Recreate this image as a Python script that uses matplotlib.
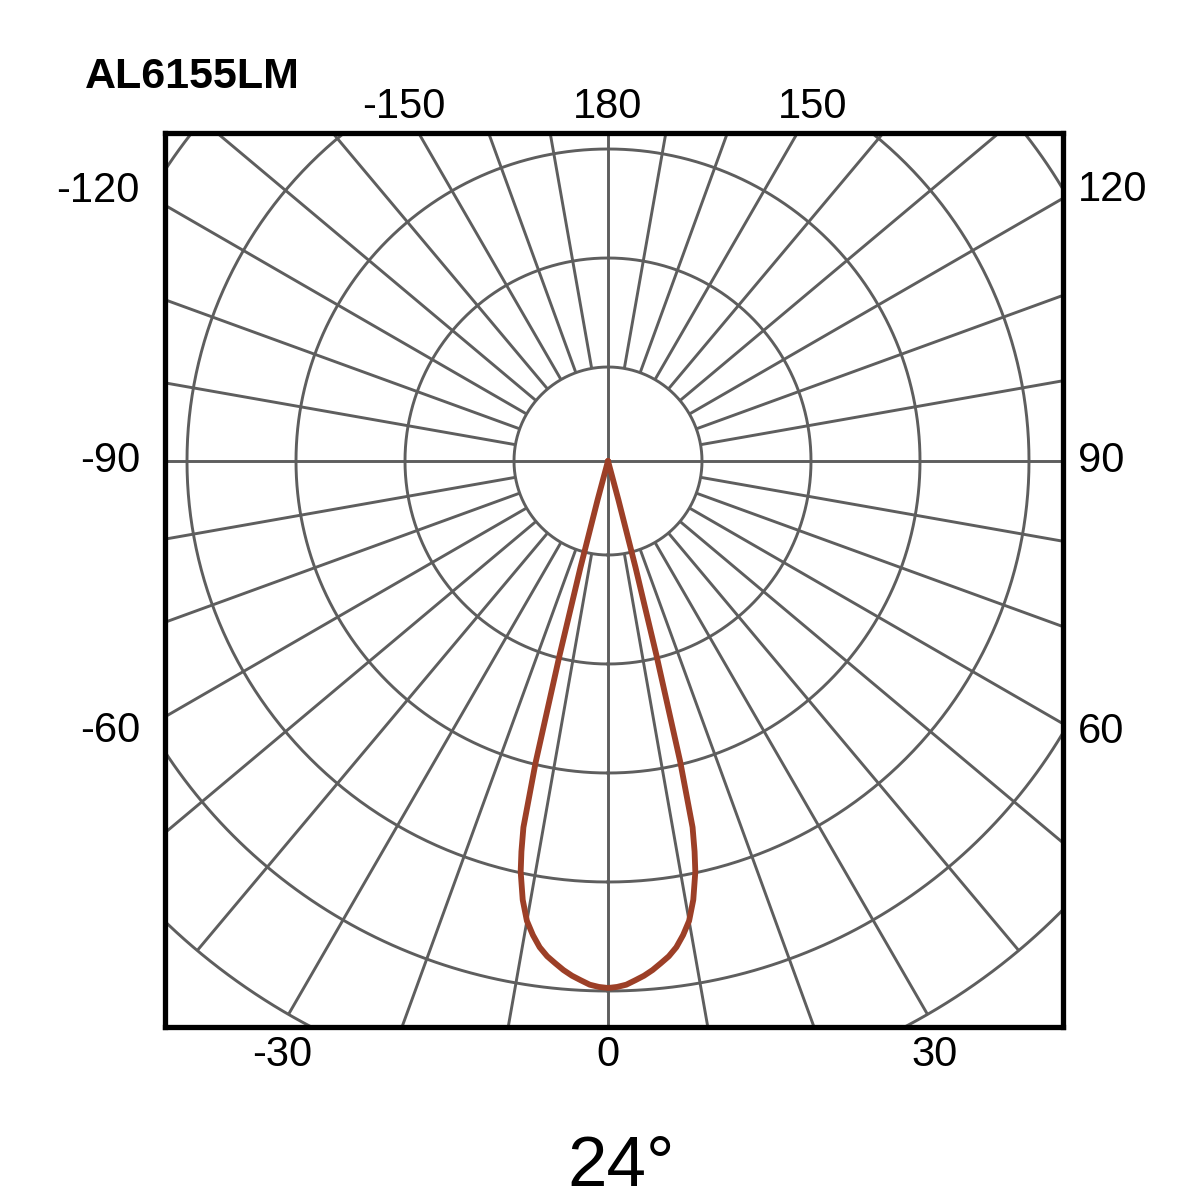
import numpy as np
import matplotlib
matplotlib.use("Agg")
import matplotlib.pyplot as plt

# ---------------- data ----------------
title = "AL6155LM"
beam_label = "24°"

# grid rings (relative intensity units)
ring_radii = [94, 203, 312, 421, 530, 639]
# radial spokes, degrees measured from nadir (0 = down, 180 = up)
spoke_angles = list(range(-170, 181, 10))
# angle labels placed around the frame
label_angles = [-150, 180, 150, -120, 120, -90, 90, -60, 60, -30, 0, 30]

# luminous intensity distribution (one half, symmetric)
curve_angles = [0, 1, 2, 3, 4, 5, 6, 7, 8, 9, 10, 11, 12, 12.5, 13, 13.5, 14, 14.5, 15, 15.5]
curve_intensity = [527, 526, 524, 520, 516, 511, 505, 499, 491, 480, 467, 447, 420, 400, 376,
                   310, 200, 110, 40, 0]

# ---------------- styling ----------------
plt.rcParams['font.family'] = ['Liberation Sans', 'DejaVu Sans']
grid_color = '#5e5e5e'
curve_color = '#9C3F27'

fig = plt.figure(figsize=(12, 12), dpi=100)
ax = fig.add_axes([165 / 1200, 1 - 1027 / 1200, 898 / 1200, 894 / 1200])
ax.set_xlim(-443, 455)
ax.set_ylim(-566, 328)
ax.set_xticks([])
ax.set_yticks([])
for sp in ax.spines.values():
    sp.set_linewidth(3.8)
    sp.set_color('black')
    sp.set_zorder(10)


def polar_xy(theta_deg, r):
    t = np.deg2rad(np.asarray(theta_deg, dtype=float))
    r = np.asarray(r, dtype=float)
    return r * np.sin(t), -r * np.cos(t)


# rings
phi = np.linspace(0, 360, 721)
for rr in ring_radii:
    x, y = polar_xy(phi, np.full_like(phi, rr))
    ax.plot(x, y, color=grid_color, lw=2.1, zorder=1)

# spokes
r_in, r_out = ring_radii[0], ring_radii[-1]
for a in spoke_angles:
    start = 0 if a % 90 == 0 else r_in
    x, y = polar_xy([a, a], [start, r_out])
    ax.plot(x, y, color=grid_color, lw=2.1, zorder=1, solid_capstyle='butt')

# intensity curve (mirror the half curve)
full_angles = [-a for a in curve_angles[::-1]] + curve_angles[1:]
full_int = curve_intensity[::-1] + curve_intensity[1:]
cx, cy = polar_xy(full_angles, full_int)
ax.plot(cx, cy, color=curve_color, lw=4.2, zorder=5, solid_joinstyle='round',
        solid_capstyle='round')

# angle labels around the frame
xl, xr, yt, yb = -468, 470, 354, -594
for a in label_angles:
    dx, dy = polar_xy(a, 1.0)
    ts = []
    if dx > 1e-9:
        ts.append((xr / dx, 'x+'))
    if dx < -1e-9:
        ts.append((xl / dx, 'x-'))
    if dy > 1e-9:
        ts.append((yt / dy, 'y+'))
    if dy < -1e-9:
        ts.append((yb / dy, 'y-'))
    t, side = min(ts)
    px, py = t * dx, t * dy
    if side == 'y-':
        px = -565 / dy * dx
    ha = {'x+': 'left', 'x-': 'right'}.get(side, 'center')
    ax.text(px, py, str(a), ha=ha, va='center', fontsize=30, color='black',
            clip_on=False)

fig.text(85 / 1200, 1 - 88 / 1200, title, fontsize=31, fontweight='bold',
         ha='left', va='baseline')
fig.text(621 / 1200, 1 - 1186 / 1200, beam_label, fontsize=51,
         ha='center', va='baseline')

fig.savefig('out.png', dpi=100, facecolor='white')
